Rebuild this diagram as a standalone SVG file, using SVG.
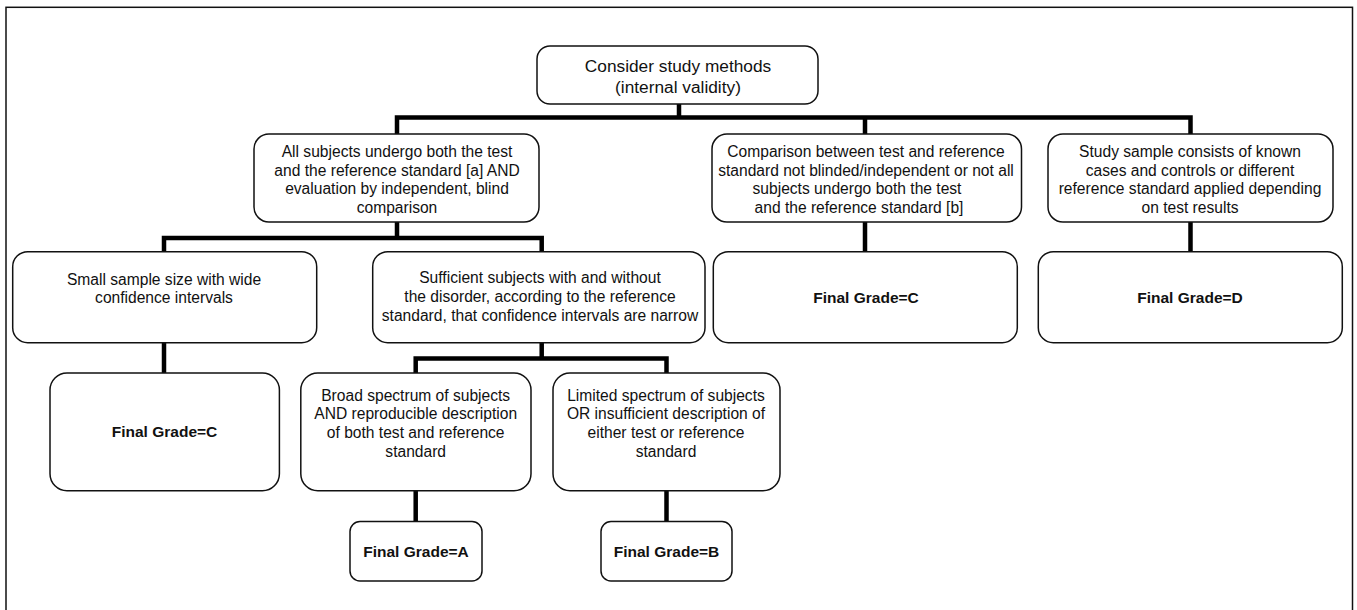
<svg xmlns="http://www.w3.org/2000/svg" width="1357" height="610" viewBox="0 0 1357 610">
<style>
.box{fill:#fff;stroke:#111;stroke-width:1.5}
.t{font-family:"Liberation Sans",Arial,Helvetica,sans-serif;font-size:15.6px;fill:#111;text-anchor:middle}
.b{font-family:"Liberation Sans",Arial,Helvetica,sans-serif;font-size:15.5px;font-weight:bold;fill:#111;text-anchor:middle}
.r{font-size:17.3px}
.c{fill:none;stroke:#000;stroke-width:4.5;stroke-linejoin:miter;stroke-linecap:butt}
</style>
<rect x="0" y="0" width="1357" height="610" fill="#fff"/>
<rect x="6" y="7.3" width="1346.5" height="612" fill="none" stroke="#111" stroke-width="1.5"/>
<g id="connectors">
<path class="c" d="M679 104V117.5M397 134V117.5H1190.5V134M865 117.5V134"/>
<path class="c" d="M397 222V238M164 252V238H541.7V252"/>
<path class="c" d="M865 222V252M1190.5 222V252"/>
<path class="c" d="M164 343V373"/>
<path class="c" d="M541.7 343V358.5M415.7 373V358.5H666.5V373"/>
<path class="c" d="M415.7 491V521.6M666.5 491V521.6"/>
</g>
<g id="root">
<rect class="box" x="537" y="46" width="281" height="58" rx="13"/>
<text class="t r" x="678" y="72">Consider study methods</text>
<text class="t r" x="678" y="93">(internal validity)</text>
</g>
<g id="all-subjects">
<rect class="box" x="254" y="134" width="285" height="88" rx="15"/>
<text class="t" x="397" y="157">All subjects undergo both the test</text>
<text class="t" x="397" y="175.5">and the reference standard [a] AND</text>
<text class="t" x="397" y="194">evaluation by independent, blind</text>
<text class="t" x="397" y="212.5">comparison</text>
</g>
<g id="comparison">
<rect class="box" x="712" y="134" width="309.5" height="88" rx="15"/>
<text class="t" x="866" y="157">Comparison between test and reference</text>
<text class="t" x="866" y="175.5">standard not blinded/independent or not all</text>
<text class="t" x="857" y="194">subjects undergo both the test</text>
<text class="t" x="859" y="212.5">and the reference standard [b]</text>
</g>
<g id="study-sample">
<rect class="box" x="1048" y="134" width="285" height="88" rx="15"/>
<text class="t" x="1190" y="157">Study sample consists of known</text>
<text class="t" x="1190" y="175.5">cases and controls or different</text>
<text class="t" x="1190" y="194">reference standard applied depending</text>
<text class="t" x="1190" y="212.5">on test results</text>
</g>
<g id="small-sample">
<rect class="box" x="12.7" y="251.7" width="304" height="91" rx="15"/>
<text class="t" x="164" y="285">Small sample size with wide</text>
<text class="t" x="164" y="302.7">confidence intervals</text>
</g>
<g id="sufficient">
<rect class="box" x="372.7" y="251.7" width="332.3" height="91" rx="15"/>
<text class="t" x="540" y="283.3">Sufficient subjects with and without</text>
<text class="t" x="540" y="302">the disorder, according to the reference</text>
<text class="t" x="540" y="320.7">standard, that confidence intervals are narrow</text>
</g>
<g id="grade-c-mid">
<rect class="box" x="713.3" y="251.7" width="304" height="91" rx="15"/>
<text class="b" x="866" y="302.7">Final Grade=C</text>
</g>
<g id="grade-d">
<rect class="box" x="1038.3" y="251.7" width="304" height="91" rx="15"/>
<text class="b" x="1190" y="302.7">Final Grade=D</text>
</g>
<g id="grade-c-left">
<rect class="box" x="50" y="373" width="229.4" height="117.8" rx="17"/>
<text class="b" x="164.5" y="437.3">Final Grade=C</text>
</g>
<g id="broad">
<rect class="box" x="300.8" y="373" width="230.2" height="117.8" rx="17"/>
<text class="t" x="415.7" y="400.5">Broad spectrum of subjects</text>
<text class="t" x="415.7" y="419.3">AND reproducible description</text>
<text class="t" x="415.7" y="438">of both test and reference</text>
<text class="t" x="415.7" y="456.7">standard</text>
</g>
<g id="limited">
<rect class="box" x="553" y="373" width="227" height="117.8" rx="17"/>
<text class="t" x="666" y="400.5">Limited spectrum of subjects</text>
<text class="t" x="666" y="419.3">OR insufficient description of</text>
<text class="t" x="666" y="438">either test or reference</text>
<text class="t" x="666" y="456.7">standard</text>
</g>
<g id="grade-a">
<rect class="box" x="350" y="521.6" width="132" height="59.4" rx="10"/>
<text class="b" x="416" y="557">Final Grade=A</text>
</g>
<g id="grade-b">
<rect class="box" x="601" y="521.6" width="131" height="59.4" rx="10"/>
<text class="b" x="666.5" y="557">Final Grade=B</text>
</g>
</svg>
